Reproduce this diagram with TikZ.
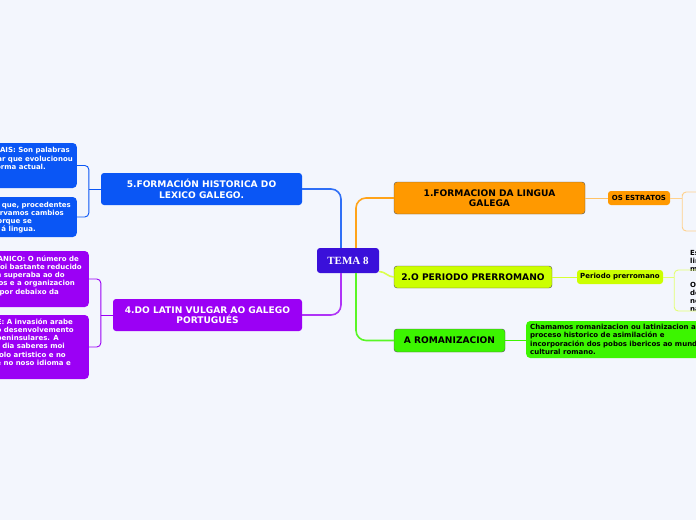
\documentclass[tikz,border=0pt]{standalone}
\usepackage{fontspec}
\setmainfont{DejaVu Sans}
\newfontfamily\temafont{Liberation Serif}
\usetikzlibrary{positioning}

\definecolor{bgcol}{HTML}{F3F6FD}
\definecolor{temacol}{HTML}{3A10DA}
\definecolor{bluecol}{HTML}{0A56F5}
\definecolor{purplecol}{HTML}{9B00F5}
\definecolor{orangecol}{HTML}{FF9900}
\definecolor{limecol}{HTML}{CCFF00}
\definecolor{greencol}{HTML}{3CF500}
\definecolor{edgecol}{HTML}{555555}

\begin{document}
\begin{tikzpicture}
  [x=1pt,y=-1pt,
   topic/.style={rounded corners=3pt,inner sep=0pt,align=center,
     font=\bfseries\fontsize{9.1}{10.5}\selectfont},
   sub/.style={rounded corners=3pt,inner sep=0pt,align=center,
     font=\bfseries\fontsize{7}{8}\selectfont},
   leaf/.style={rounded corners=4pt,inner sep=0pt,anchor=east,minimum width=120pt},
   line/.style={font=\bfseries\fontsize{7}{8.3}\selectfont,inner sep=0pt,anchor=base east},
   mainlink/.style={line width=1.6pt,rounded corners=10pt},
   sublink/.style={line width=0.9pt,rounded corners=4pt}]
  \useasboundingbox (0,0) rectangle (696,520);
  \clip (0,0) rectangle (696,520);
  \fill[bgcol] (0,0) rectangle (696,520);

  % centre
  \node[topic,fill=temacol,text=white,minimum width=62pt,minimum height=25pt,
    font=\temafont\bfseries\fontsize{11}{13}\selectfont] (tema) at (348,260.5) {TEMA 8};

  % right side
  \node[topic,fill=orangecol,draw=edgecol,minimum width=191pt,minimum height=32pt] (n1) at (489.5,198) {1.FORMACION DA LINGUA\\GALEGA};
  \node[sub,fill=orangecol,minimum width=62pt,minimum height=14pt] (estratos) at (639,198) {OS ESTRATOS};
  \node[topic,fill=limecol,draw=edgecol,minimum width=158pt,minimum height=22pt] (n2) at (473,277) {2.O PERIODO PRERROMANO};
  \node[sub,fill=limecol,minimum width=86pt,minimum height=14pt] (prerro) at (620,277) {Periodo prerromano};
  \node[topic,fill=greencol,draw=edgecol,minimum width=111pt,minimum height=23pt] (roman) at (449.5,340.5) {A ROMANIZACION};
  \node[rounded corners=4pt,fill=greencol,anchor=west,align=left,inner xsep=4pt,inner ysep=0pt,
    minimum height=37pt,font=\bfseries\fontsize{7}{8.3}\selectfont] (chama) at (526,339.5)
    {Chamamos romanizacion ou latinizacion ao\\proceso historico de asimilación e\\incorporación dos pobos ibericos ao mundo\\cultural romano.};

  % left side
  \node[topic,fill=bluecol,text=white,minimum width=201pt,minimum height=32pt] (n5) at (201.5,189) {5.FORMACIÓN HISTORICA DO\\LEXICO GALEGO.};
  \node[topic,fill=purplecol,text=white,minimum width=189pt,minimum height=32pt] (n4) at (207.5,315) {4.DO LATIN VULGAR AO GALEGO\\PORTUGUÉS};

  \node[leaf,fill=bluecol,minimum height=45pt] (b1) at (77,165.5) {};
  \node[leaf,fill=bluecol,minimum height=40pt] (b2) at (77,217) {};
  \node[leaf,fill=purplecol,minimum height=56pt] (p1) at (89,279) {};
  \node[leaf,fill=purplecol,minimum height=64pt] (p2) at (89,347) {};

  \foreach \txt/\xe/\yb [count=\i] in {
    PATRIMONIAIS: Son palabras/70/152.5,
    do latín vulgar que evolucionou/73/161,
    ata chegar á súa forma actual./46/169.5}
    \node[line,text=white] (b1l\i) at (\xe,\yb) {\txt};
  \foreach \txt/\xe/\yb [count=\i] in {
    {CULTISMOS: Son palabras que, procedentes}/71/207.5,
    do latín conservamos cambios/64/215.5,
    mínimos porque se/32/223.5,
    incorporaron tarde á lingua./36/231.5}
    \node[line,text=white] (b2l\i) at (\xe,\yb) {\txt};
  \foreach \txt/\xe/\yb [count=\i] in {
    PERIODO GERMANICO: O número de/79/261.5,
    pobos xermanos foi bastante reducido/82/269.5,
    pois non superaba ao do/65/277.5,
    hispanorromanos e a organizacion/75/285.5,
    quedou por debaixo da/59/294}
    \node[line,text=white] (p1l\i) at (\xe,\yb) {\txt};
  \foreach \txt/\xe/\yb [count=\i] in {
    PERIODO ARABE: A invasión arabe/73/324,
    freou o desenvolvemento/74/332,
    dos reinos peninsulares. A/59/340.5,
    cultura árabe tiña naquel dia saberes moi/65/348.5,
    avanzados polo artistico e no/66/357,
    o que se reflicte no noso idioma e/71/365.5}
    \node[line,text=white] (p2l\i) at (\xe,\yb) {\txt};

  % texts beyond the right edge
  \foreach \txt/\yb [count=\i] in {Estes pobos/255.5, linguas/263.5, moi/271,
    O/287.5, deixaron/295.5, nomes/303.5, na/311}
    \node[line,anchor=base west] (r\i) at (690,\yb) {\txt};

  % main branches
  \draw[mainlink,color=bluecol!85] ([xshift=-7pt]tema.north) |- (n5.east);
  \draw[mainlink,color=orangecol!90] ([xshift=8pt]tema.north) |- (n1.west);
  \draw[mainlink,color=purplecol!80] ([xshift=-7pt]tema.south) |- (n4.east);
  \draw[mainlink,color=greencol!85] ([xshift=8pt]tema.south) |- (roman.west);
  \draw[mainlink,color=limecol!70!white] ([yshift=-11pt]tema.east) to[out=0,in=180] (n2.west);

  % sub branches
  \draw[sublink,color=orangecol!60] (n1) -- (estratos);
  \draw[sublink,color=limecol!80!white] (n2) -- (prerro);
  \draw[sublink,color=greencol] (roman.east) -- (roman.east -| chama.west);

  \coordinate (bk5) at ([xshift=-12pt]n5.west);
  \coordinate (bk4) at ([xshift=-12pt]n4.west);
  \coordinate (bkE) at ([xshift=12pt]estratos.east);
  \coordinate (bkP) at ([xshift=11pt]prerro.east);
  \coordinate (es1) at (710,192);
  \coordinate (es2) at (710,231);
  \coordinate (pr1) at (710,270);
  \coordinate (pr2) at (710,311);

  \draw[sublink,color=bluecol] (n5.west) -- (bk5);
  \draw[sublink,color=bluecol] (b1.east) -| (bk5) |- (b2.east);
  \draw[sublink,color=purplecol] (n4.west) -- (bk4);
  \draw[sublink,color=purplecol] (p1.east) -| (bk4) |- (p2.east);
  \draw[sublink,color=orangecol!45] (estratos.east) -- (bkE);
  \draw[sublink,color=orangecol!45] (es1) -| (bkE) |- (es2);
  \draw[sublink,color=limecol!55!white] (prerro.east) -- (bkP);
  \draw[sublink,color=limecol!55!white] (pr1) -| (bkP) |- (pr2);
\end{tikzpicture}
\end{document}
